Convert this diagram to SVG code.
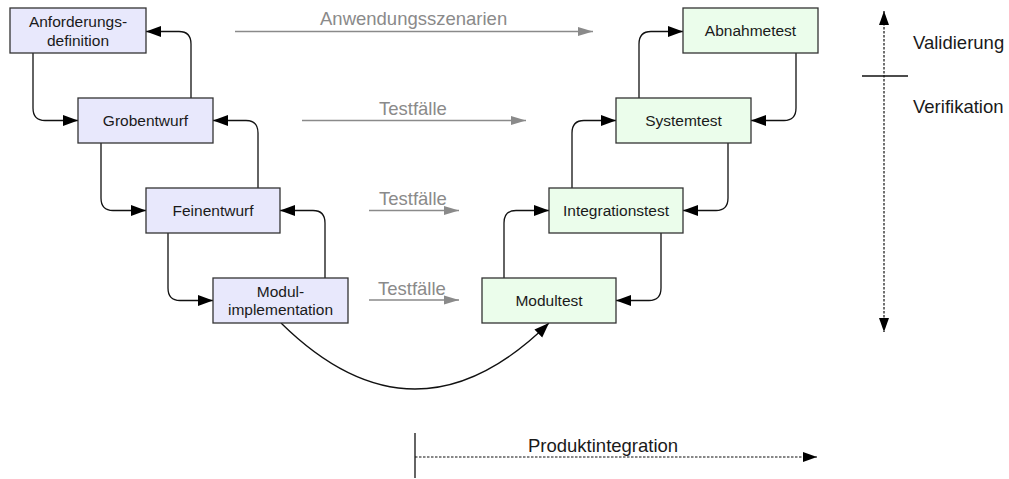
<svg xmlns="http://www.w3.org/2000/svg" width="1009" height="479" viewBox="0 0 1009 479">
<style>
.box{stroke:#333;stroke-width:1.3}
.l{fill:#e8e8fc}
.r{fill:#ebfdeb}
.t{font-family:"Liberation Sans",Arial,sans-serif;font-size:15.5px;fill:#1a1a1a;text-anchor:middle}
.g{font-family:"Liberation Sans",Arial,sans-serif;font-size:18.5px;fill:#8a8a8a}
.k{font-family:"Liberation Sans",Arial,sans-serif;font-size:18.5px;fill:#1a1a1a}
.c{fill:none;stroke:#111;stroke-width:1.3}
.gl{fill:none;stroke:#8a8a8a;stroke-width:1.5}
.d{fill:none;stroke:#111;stroke-width:1.2;stroke-dasharray:2.5,1.5}
</style>
<defs>
<marker id="a" markerUnits="userSpaceOnUse" markerWidth="16" markerHeight="12" refX="15" refY="6" orient="auto"><path d="M0,0.5 L15,6 L0,11.5 Z" fill="#000"/></marker>
<marker id="ga" markerUnits="userSpaceOnUse" markerWidth="16" markerHeight="10" refX="15" refY="5" orient="auto"><path d="M0,0.5 L15,5 L0,9.5 Z" fill="#8a8a8a"/></marker>
<marker id="as" markerUnits="userSpaceOnUse" markerWidth="16" markerHeight="12" refX="14" refY="5" orient="auto-start-reverse"><path d="M0,0 L14,5 L0,10 Z" fill="#000"/></marker>
</defs>
<g id="connectors">
<path class="c" d="M33,53 V108 Q33,120.5 45,120.5 H78" marker-end="url(#a)"/>
<path class="c" d="M191,98 V44 Q191,31.5 179,31.5 H146" marker-end="url(#a)"/>
<path class="c" d="M101,143 V198 Q101,210.5 113,210.5 H146" marker-end="url(#a)"/>
<path class="c" d="M258,188 V133 Q258,120.5 246,120.5 H213" marker-end="url(#a)"/>
<path class="c" d="M168,233 V288 Q168,300.5 180,300.5 H213" marker-end="url(#a)"/>
<path class="c" d="M325,278 V223 Q325,210.5 313,210.5 H280" marker-end="url(#a)"/>
<path class="c" d="M504,278 V223 Q504,210.5 516,210.5 H549" marker-end="url(#a)"/>
<path class="c" d="M661,233 V288 Q661,300.5 649,300.5 H616" marker-end="url(#a)"/>
<path class="c" d="M572,188 V133 Q572,120.5 584,120.5 H616" marker-end="url(#a)"/>
<path class="c" d="M728,143 V198 Q728,210.5 716,210.5 H683" marker-end="url(#a)"/>
<path class="c" d="M639,98 V44 Q639,31.5 651,31.5 H683" marker-end="url(#a)"/>
<path class="c" d="M796,53 V108 Q796,120.5 784,120.5 H751" marker-end="url(#a)"/>
<path class="c" d="M281,323 Q415,455 549,323" marker-end="url(#a)"/>
<path class="gl" d="M235,31.5 H593" marker-end="url(#ga)"/>
<path class="gl" d="M302,120.5 H526" marker-end="url(#ga)"/>
<path class="gl" d="M369,210.5 H459" marker-end="url(#ga)"/>
<path class="gl" d="M369,300 H459" marker-end="url(#ga)"/>
<path class="d" d="M884,11 V332" marker-start="url(#as)" marker-end="url(#as)"/>
<path class="c" d="M862,76 H908"/>
<path class="c" d="M415,433 V478"/>
<path class="d" d="M415,457 H817" marker-end="url(#as)"/>
</g>
<g id="labels">
<text class="g" x="320" y="25">Anwendungsszenarien</text>
<text class="g" x="379" y="115">Testfälle</text>
<text class="g" x="379" y="205">Testfälle</text>
<text class="g" x="378" y="295">Testfälle</text>
<text class="k" x="913" y="49">Validierung</text>
<text class="k" x="913" y="113">Verifikation</text>
<text class="k" x="528" y="452">Produktintegration</text>
</g>
<g id="anforderungsdefinition"><rect class="box l" x="10" y="8" width="136" height="45"/><text class="t" x="78" y="27">Anforderungs-</text><text class="t" x="78" y="46">definition</text></g>
<g id="grobentwurf"><rect class="box l" x="78" y="98" width="135" height="45"/><text class="t" x="145.5" y="126">Grobentwurf</text></g>
<g id="feinentwurf"><rect class="box l" x="146" y="188" width="134" height="45"/><text class="t" x="213" y="216">Feinentwurf</text></g>
<g id="modulimplementation"><rect class="box l" x="213" y="278" width="135" height="45"/><text class="t" x="280.5" y="297">Modul-</text><text class="t" x="280.5" y="315">implementation</text></g>
<g id="modultest"><rect class="box r" x="482" y="278" width="134" height="45"/><text class="t" x="549" y="306">Modultest</text></g>
<g id="integrationstest"><rect class="box r" x="549" y="188" width="134" height="45"/><text class="t" x="616" y="216">Integrationstest</text></g>
<g id="systemtest"><rect class="box r" x="616" y="98" width="135" height="45"/><text class="t" x="683.5" y="126">Systemtest</text></g>
<g id="abnahmetest"><rect class="box r" x="683" y="8" width="135" height="45"/><text class="t" x="750.5" y="36">Abnahmetest</text></g>
</svg>
